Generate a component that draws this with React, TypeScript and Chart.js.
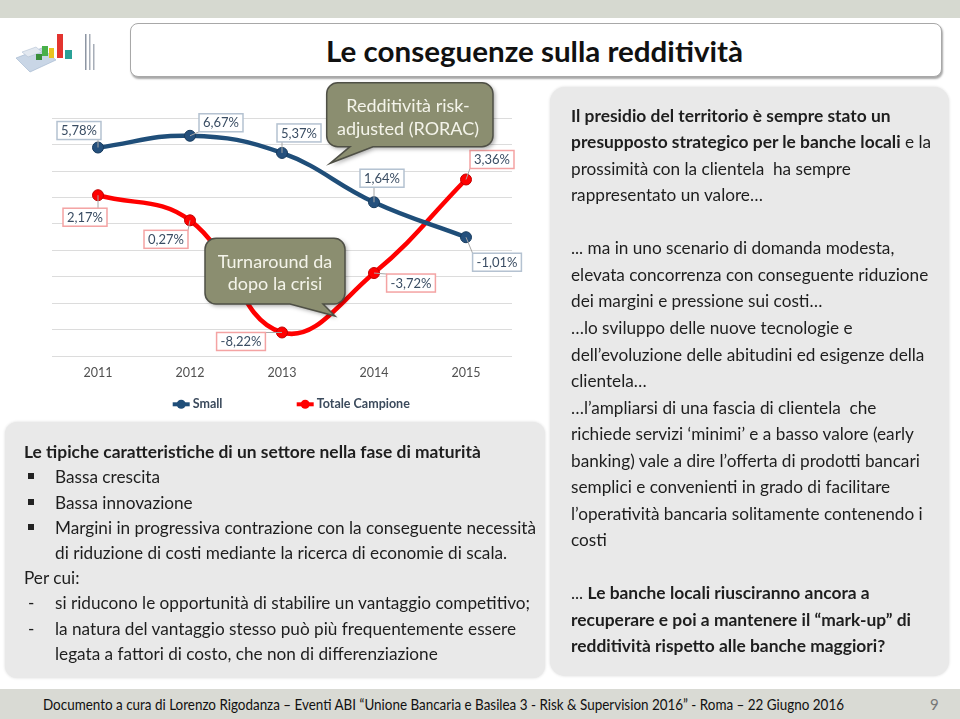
import React, { useEffect, useLayoutEffect, useRef } from "react";
import { Chart, registerables } from "chart.js";

Chart.register(...registerables);

// ---------- DATA ----------
const years = ["2011", "2012", "2013", "2014", "2015"];
const smallValues = [5.78, 6.67, 5.37, 1.64, -1.01];
const totaleValues = [2.17, 0.27, -8.22, -3.72, 3.36];
const seriesNames = ["Small", "Totale Campione"];
const yMin = -10;
const yMax = 8;
const yStep = 2;

// ---------- STYLE ----------
const BLUE = "#1f4e79";
const RED = "#ff0000";
// label box offsets from each point (styling only)
const smallLabelOffsets = [[-19, -17], [31, -13], [17, -20], [8, -24], [31, 25]];
const totaleLabelOffsets = [[-13, 22], [-24, 19], [-41, 9], [37, 10], [26, -20]];

const FONT = "Lato, 'Noto Sans', sans-serif";
const fmtPct = (v: number) => v.toFixed(2).replace(".", ",") + "%";

function bubblePath(ctx: CanvasRenderingContext2D, x0: number, y0: number, x1: number, y1: number, r: number, tailL: number, tailR: number, tipX: number, tipY: number) {
  ctx.beginPath();
  ctx.moveTo(x0 + r, y0);
  ctx.lineTo(x1 - r, y0);
  ctx.arcTo(x1, y0, x1, y0 + r, r);
  ctx.lineTo(x1, y1 - r);
  ctx.arcTo(x1, y1, x1 - r, y1, r);
  ctx.lineTo(tailR, y1);
  ctx.lineTo(tipX, tipY);
  ctx.lineTo(tailL, y1);
  ctx.lineTo(x0 + r, y1);
  ctx.arcTo(x0, y1, x0, y1 - r, r);
  ctx.lineTo(x0, y0 + r);
  ctx.arcTo(x0, y0, x0 + r, y0, r);
  ctx.closePath();
}

const valueLabelPlugin = {
  id: "valueLabels",
  afterDatasetsDraw(chart: any) {
    const ctx: CanvasRenderingContext2D = chart.ctx;
    chart.data.datasets.forEach((ds: any, di: number) => {
      const meta = chart.getDatasetMeta(di);
      const offs = di === 0 ? smallLabelOffsets : totaleLabelOffsets;
      const border = di === 0 ? "#b4c2d1" : "#f4a3a3";
      meta.data.forEach((pt: any, i: number) => {
        const txt = fmtPct(ds.data[i]);
        ctx.save();
        ctx.font = `13px ${FONT}`;
        const w = ctx.measureText(txt).width + 8;
        const h = 18;
        const cx = pt.x + offs[i][0];
        const cy = pt.y + offs[i][1];
        const bx = cx - w / 2, by = cy - h / 2;
        const nx = Math.max(bx, Math.min(pt.x, bx + w));
        const ny = Math.max(by, Math.min(pt.y, by + h));
        ctx.strokeStyle = "#a6a6a6";
        ctx.lineWidth = 1;
        ctx.beginPath();
        ctx.moveTo(pt.x, pt.y);
        ctx.lineTo(nx, ny);
        ctx.stroke();
        ctx.fillStyle = "#ffffff";
        ctx.fillRect(bx, by, w, h);
        ctx.strokeStyle = border;
        ctx.lineWidth = 1.5;
        ctx.strokeRect(bx, by, w, h);
        ctx.fillStyle = "#3a4d63";
        ctx.textAlign = "center";
        ctx.textBaseline = "middle";
        ctx.fillText(txt, cx, cy + 0.5);
        ctx.restore();
      });
    });
  },
};

const overlayPlugin = {
  id: "overlay",
  afterDraw(chart: any) {
    const ctx: CanvasRenderingContext2D = chart.ctx;
    const drawBubble = (x0: number, y0: number, x1: number, y1: number, tl: number, tr: number, tx: number, ty: number, lines: string[], cx: number, ly: number[]) => {
      ctx.save();
      ctx.shadowColor = "rgba(0,0,0,0.35)";
      ctx.shadowBlur = 4;
      ctx.shadowOffsetX = 2;
      ctx.shadowOffsetY = 2;
      bubblePath(ctx, x0, y0, x1, y1, 11, tl, tr, tx, ty);
      ctx.fillStyle = "#8b8e70";
      ctx.fill();
      ctx.shadowColor = "transparent";
      ctx.strokeStyle = "#4f5046";
      ctx.lineWidth = 1.5;
      ctx.stroke();
      ctx.fillStyle = "#f4f4ea";
      ctx.font = `18px ${FONT}`;
      ctx.textAlign = "center";
      ctx.textBaseline = "middle";
      lines.forEach((l, i) => ctx.fillText(l, cx, ly[i]));
      ctx.restore();
    };
    drawBubble(326.7, 7.7, 493, 71.7, 350, 373, 330, 88.3, ["Redditività risk-", "adjusted (RORAC)"], 408, [31, 54.3]);
    drawBubble(205, 163.3, 345, 229, 290, 323, 335, 241, ["Turnaround da", "dopo la crisi"], 275, [186.7, 209]);

    // legend
    const ly = 329.3;
    const items = [
      { x: 172.7, color: BLUE, text: seriesNames[0] },
      { x: 296.7, color: RED, text: seriesNames[1] },
    ];
    items.forEach((it) => {
      ctx.save();
      ctx.strokeStyle = it.color;
      ctx.lineWidth = 4;
      ctx.beginPath();
      ctx.moveTo(it.x, ly);
      ctx.lineTo(it.x + 17, ly);
      ctx.stroke();
      ctx.fillStyle = it.color;
      ctx.beginPath();
      ctx.arc(it.x + 8.5, ly, 4.5, 0, Math.PI * 2);
      ctx.fill();
      ctx.fillStyle = "#3b4a5c";
      ctx.font = `bold 12.5px ${FONT}`;
      ctx.textAlign = "left";
      ctx.textBaseline = "middle";
      ctx.fillText(it.text, it.x + 20, ly);
      ctx.restore();
    });
  },
};

function LineChart() {
  const ref = useRef<HTMLCanvasElement | null>(null);
  useEffect(() => {
    if (!ref.current) return;
    const chart = new Chart(ref.current, {
      type: "line",
      data: {
        labels: years,
        datasets: [
          {
            label: seriesNames[0],
            data: smallValues,
            borderColor: BLUE,
            backgroundColor: BLUE,
            borderWidth: 4.5,
            pointRadius: 5.5,
            pointBackgroundColor: "#24507d",
            pointBorderColor: "#173b5e",
            pointBorderWidth: 1,
            tension: 0.42,
          },
          {
            label: seriesNames[1],
            data: totaleValues,
            borderColor: RED,
            backgroundColor: RED,
            borderWidth: 4.5,
            pointRadius: 5.5,
            pointBackgroundColor: "#ff0000",
            pointBorderColor: "#c00000",
            pointBorderWidth: 1,
            tension: 0.42,
          },
        ],
      },
      options: {
        animation: false,
        responsive: false,
        maintainAspectRatio: false,
        devicePixelRatio: 1,
        layout: { padding: { left: 52, right: 33, top: 43.2, bottom: 31 } },
        plugins: { legend: { display: false }, tooltip: { enabled: false } },
        scales: {
          x: {
            offset: true,
            grid: { display: false, drawTicks: false },
            border: { display: false },
            ticks: { color: "#505050", font: { family: FONT, size: 12.5 }, padding: 9 },
          },
          y: {
            min: yMin,
            max: yMax,
            ticks: { stepSize: yStep, display: false },
            grid: { color: "#dcdcdc", drawTicks: false, lineWidth: 1 },
            border: { display: false },
          },
        },
      },
      plugins: [valueLabelPlugin, overlayPlugin],
    });
    return () => chart.destroy();
  }, []);
  return <canvas ref={ref} width={545} height={345} style={{ position: "absolute", left: 0, top: 75, width: 545, height: 345 }} />;
}

// Text squeezed horizontally to a given width
function FitText({ width, style, children }: { width: number; style: React.CSSProperties; children: React.ReactNode }) {
  const ref = useRef<HTMLSpanElement | null>(null);
  useLayoutEffect(() => {
    const el = ref.current;
    if (!el) return;
    el.style.transform = "none";
    const natural = el.getBoundingClientRect().width;
    if (natural > 0) el.style.transform = `scaleX(${width / natural})`;
  });
  return (
    <span ref={ref} style={{ ...style, display: "inline-block", whiteSpace: "nowrap", transformOrigin: "left center" }}>
      {children}
    </span>
  );
}

const leftHeading = "Le tipiche caratteristiche di un settore nella fase di maturità";
const leftBullets = [
  ["Bassa crescita"],
  ["Bassa innovazione"],
  ["Margini in progressiva contrazione con la conseguente necessità", "di riduzione di costi mediante la ricerca di economie di scala."],
];
const leftPer = "Per cui:";
const leftDashes = [
  ["si riducono le opportunità di stabilire un vantaggio competitivo;"],
  ["la natura del vantaggio stesso può più frequentemente essere", "legata a fattori di costo, che non di differenziazione"],
];

type Seg = { t: string; b?: boolean };
const rightLines: Seg[][] = [
  [{ t: "Il presidio del territorio è sempre stato un", b: true }],
  [{ t: "presupposto strategico per le banche locali", b: true }, { t: " e la" }],
  [{ t: "prossimità con la clientela  ha sempre" }],
  [{ t: "rappresentato un valore…" }],
  [{ t: "\u00a0" }],
  [{ t: "... ma in uno scenario di domanda modesta," }],
  [{ t: "elevata concorrenza con conseguente riduzione" }],
  [{ t: "dei margini e pressione sui costi…" }],
  [{ t: "…lo sviluppo delle nuove tecnologie e" }],
  [{ t: "dell’evoluzione delle abitudini ed esigenze della" }],
  [{ t: "clientela…" }],
  [{ t: "…l’ampliarsi di una fascia di clientela  che" }],
  [{ t: "richiede servizi ‘minimi’ e a basso valore (early" }],
  [{ t: "banking) vale a dire l’offerta di prodotti bancari" }],
  [{ t: "semplici e convenienti in grado di facilitare" }],
  [{ t: "l’operatività bancaria solitamente contenendo i" }],
  [{ t: "costi" }],
  [{ t: "\u00a0" }],
  [{ t: "... " }, { t: "Le banche locali riusciranno ancora a", b: true }],
  [{ t: "recuperare e poi a mantenere il “mark-up” di", b: true }],
  [{ t: "redditività rispetto alle banche maggiori?", b: true }],
];

const footerText = "Documento a cura di Lorenzo Rigodanza – Eventi ABI “Unione Bancaria e Basilea 3 - Risk & Supervision 2016” - Roma – 22 Giugno 2016";
const titleText = "Le conseguenze sulla redditività";

export default function App() {
  const textColor = "#1e1e1e";
  const lh = 25.2;
  const bodySize = 17.2;
  const boldSize = 17.4;
  const leftRows: React.ReactNode[] = [];
  leftRows.push(
    <div key="h" style={{ fontWeight: 700, fontSize: boldSize, whiteSpace: "nowrap" }}>{leftHeading}</div>
  );
  leftBullets.forEach((b, i) =>
    b.forEach((l, j) =>
      leftRows.push(
        <div key={"b" + i + j} style={{ position: "relative", paddingLeft: 31, whiteSpace: "nowrap" }}>
          {j === 0 && <span style={{ position: "absolute", left: 4, top: 9, width: 6, height: 6, background: "#222" }} />}
          {l}
        </div>
      )
    )
  );
  leftRows.push(<div key="p">{leftPer}</div>);
  leftDashes.forEach((b, i) =>
    b.forEach((l, j) =>
      leftRows.push(
        <div key={"d" + i + j} style={{ position: "relative", paddingLeft: 31, whiteSpace: "nowrap" }}>
          {j === 0 && <span style={{ position: "absolute", left: 4 }}>-</span>}
          {l}
        </div>
      )
    )
  );

  return (
    <div style={{ position: "fixed", left: 0, top: 0, width: 960, height: 719, background: "#ffffff", overflow: "hidden", fontFamily: FONT, color: textColor }}>
      {/* top strip */}
      <div style={{ position: "absolute", left: 0, top: 0, width: 960, height: 18, background: "#d6d9d0" }} />
      {/* logo */}
      <svg style={{ position: "absolute", left: 12, top: 30 }} width={90} height={45} viewBox="0 0 90 45">
        <polygon points="4,28 30,18 44,30 18,42" fill="#c9d6e6" stroke="#9fb3cc" strokeWidth="0.6" />
        <polygon points="10,22 24,17 30,22 16,27" fill="#e2e8f0" stroke="#a9b8cc" strokeWidth="0.5" />
        <rect x="30" y="16" width="6" height="10" fill="#49b04a" />
        <rect x="37" y="18" width="5" height="10" fill="#e8c320" />
        <rect x="45" y="4" width="6" height="24" fill="#e3342f" />
        <rect x="53" y="20" width="7" height="9" fill="#2aa197" />
        <rect x="24" y="24" width="6" height="6" fill="#3a8f3a" />
        <rect x="73" y="4" width="1.5" height="36" fill="#8d96a3" />
        <rect x="77" y="4" width="1.5" height="36" fill="#a7aeb8" />
        <rect x="81" y="14" width="1.5" height="26" fill="#a7aeb8" />
      </svg>
      {/* title */}
      <div style={{ position: "absolute", left: 130, top: 23, width: 812, height: 54, boxSizing: "border-box", background: "#fff", border: "1px solid #a8a8a8", borderRadius: 8, boxShadow: "1px 2px 2px rgba(0,0,0,0.35)" }} />
      <div style={{ position: "absolute", left: 326, top: 31, height: 40, lineHeight: "40px" }}>
        <FitText width={417} style={{ fontFamily: FONT, fontWeight: 700, fontSize: 29, color: "#111" }}>{titleText}</FitText>
      </div>

      <LineChart />

      {/* left text box */}
      <div style={{ position: "absolute", left: 5, top: 422, width: 540, height: 256, background: "#e9e9e9", borderRadius: 12, boxShadow: "0 0 3px rgba(0,0,0,0.15)" }} />
      <div style={{ position: "absolute", left: 24, top: 451.7 - lh / 2, fontSize: bodySize, lineHeight: lh + "px" }}>{leftRows}</div>

      {/* right text box */}
      <div style={{ position: "absolute", left: 550, top: 87, width: 399, height: 589, background: "#e9e9e9", borderRadius: 15, boxShadow: "0 0 3px rgba(0,0,0,0.15)" }} />
      <div style={{ position: "absolute", left: 571, top: 116 - 26.53 / 2, fontSize: bodySize, lineHeight: "26.53px" }}>
        {rightLines.map((segs, i) => (
          <div key={i} style={{ whiteSpace: "pre" }}>
            {segs.map((s, j) => (
              <span key={j} style={{ fontWeight: s.b ? 700 : 400, fontSize: s.b ? boldSize : bodySize }}>{s.t}</span>
            ))}
          </div>
        ))}
      </div>

      {/* footer */}
      <div style={{ position: "absolute", left: 0, top: 689, width: 960, height: 30, background: "#d9dad4" }} />
      <div style={{ position: "absolute", left: 43, top: 694, height: 20, lineHeight: "20px" }}>
        <FitText width={801} style={{ fontFamily: FONT, fontSize: 15, color: "#111" }}>{footerText}</FitText>
      </div>
      <div style={{ position: "absolute", left: 930, top: 694, lineHeight: "20px", fontFamily: FONT, fontSize: 15, color: "#777" }}>9</div>
    </div>
  );
}
